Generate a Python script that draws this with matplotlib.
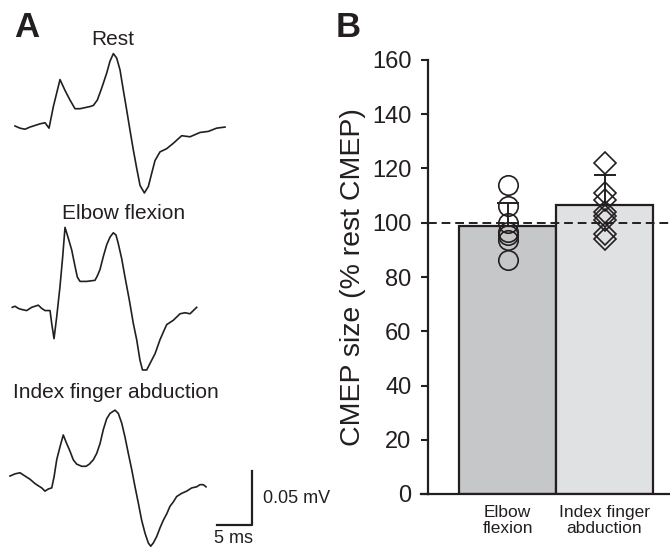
import numpy as np
import matplotlib
matplotlib.use("Agg")
import matplotlib.pyplot as plt

plt.rcParams['font.family'] = ['Liberation Sans', 'DejaVu Sans']
ink = '#231f20'

# panel A traces: time (ms) from trace start, amplitude (mV) from trace baseline
rest_t = [0, 0.71, 1.43, 2.14, 2.62, 3.57, 4.29, 4.86, 5.48, 6.43, 7.14, 7.86, 8.57, 9.29, 10.0,
          10.71, 11.19, 11.76, 12.38, 13.1, 13.57, 14.05, 14.52, 15.0, 15.48, 15.95, 16.43, 16.9,
          17.38, 17.86, 18.48, 19.05, 19.52, 20.0, 20.71, 21.67, 22.62, 23.81, 25.0, 26.43, 27.62,
          28.81, 30.0]
rest_v = [0, -0.002, -0.003, -0.001, 0.0, 0.002, 0.003, -0.002, 0.018, 0.043, 0.033, 0.024, 0.016,
          0.016, 0.017, 0.018, 0.019, 0.024, 0.035, 0.049, 0.060, 0.067, 0.063, 0.052, 0.033, 0.015,
          -0.004, -0.022, -0.039, -0.055, -0.062, -0.056, -0.044, -0.032, -0.024, -0.021, -0.016,
          -0.009, -0.010, -0.006, -0.005, -0.002, -0.001]

elbow_t = [0, 0.39, 0.86, 1.34, 2.06, 2.77, 3.71, 4.2, 4.67, 5.39, 5.63, 5.96, 6.34, 6.81, 7.2,
           7.53, 8.0, 8.49, 8.96, 9.29, 9.67, 10.63, 11.81, 12.14, 12.53, 13.0, 13.49, 13.96, 14.43,
           14.81, 15.14, 15.63, 16.1, 16.71, 17.29, 17.77, 18.24, 18.6, 19.2, 19.91, 20.39, 21.1,
           21.57, 22.06, 23.0, 23.96, 24.67, 25.39, 25.86, 26.34]
elbow_v = [0, 0.001, -0.001, -0.002, -0.003, 0, 0.002, -0.001, -0.003, -0.003, -0.015, -0.029,
           -0.009, 0.019, 0.047, 0.074, 0.064, 0.053, 0.038, 0.028, 0.024, 0.024, 0.025, 0.029,
           0.035, 0.047, 0.058, 0.065, 0.069, 0.067, 0.059, 0.045, 0.028, 0.007, -0.015, -0.030,
           -0.049, -0.058, -0.058, -0.049, -0.043, -0.030, -0.023, -0.016, -0.012, -0.006, -0.005,
           -0.006, -0.003, 0]

index_t = [0, 0.71, 1.43, 2.14, 2.86, 3.57, 4.04, 4.53, 5.0, 5.47, 5.96, 6.29, 6.67, 7.14, 7.61,
           8.1, 8.57, 9.04, 9.53, 10.24, 10.86, 11.33, 11.9, 12.39, 12.86, 13.33, 13.81, 14.29, 15.0,
           15.47, 15.96, 16.43, 16.9, 17.39, 17.86, 18.33, 18.81, 19.29, 19.76, 20.1, 20.47, 20.96,
           21.43, 21.9, 22.39, 22.86, 23.33, 23.81, 24.53, 25.24, 25.96, 26.67, 27.14, 27.61, 28.0]
index_v = [0, 0.002, 0.003, 0, -0.003, -0.007, -0.009, -0.011, -0.014, -0.012, -0.011, -0.001,
           0.015, 0.027, 0.038, 0.030, 0.023, 0.015, 0.011, 0.009, 0.009, 0.011, 0.015, 0.021, 0.030,
           0.043, 0.053, 0.058, 0.061, 0.058, 0.049, 0.036, 0.021, 0.006, -0.010, -0.025, -0.041,
           -0.053, -0.062, -0.065, -0.062, -0.056, -0.048, -0.041, -0.035, -0.028, -0.024, -0.019,
           -0.016, -0.014, -0.011, -0.010, -0.008, -0.008, -0.010]

# panel B data (% rest CMEP)
conditions = ['Elbow\nflexion', 'Index finger\nabduction']
means = [98.8, 106.7]
sds = [8.4, 10.8]
elbow_pts = [114.0, 106.0, 100.0, 96.7, 95.5, 93.6, 86.3]
index_pts = [122.0, 111.0, 108.5, 104.0, 102.5, 101.0, 96.0, 94.0]

fig = plt.figure(figsize=(6.7, 5.5), dpi=100)
W, H = 670.0, 550.0

# ---- panel A ----
axa = fig.add_axes([0, 0, 300 / W, 1])
axa.set_xlim(0, 300 / 7.0)          # 7 px per ms
axa.set_ylim(0, H / 1080.0)         # 1080 px per mV
axa.axis('off')

for t, v, (t0, v0) in [(rest_t, rest_v, (2.143, 0.3926)),
                       (elbow_t, elbow_v, (1.757, 0.2247)),
                       (index_t, index_v, (1.429, 0.0685))]:
    axa.plot(np.array(t) + t0, np.array(v) + v0, color=ink, lw=1.2)

# scale bar: 5 ms, 0.05 mV
sb_t, sb_v = 36.0, 0.0231
axa.plot([sb_t - 5, sb_t, sb_t], [sb_v, sb_v, sb_v + 0.05], color=ink, lw=1.6)

fig.text(113 / W, 1 - 45 / H, 'Rest', ha='center', va='baseline', fontsize=15, color=ink)
fig.text(124 / W, 1 - 219 / H, 'Elbow flexion', ha='center', va='baseline', fontsize=15, color=ink)
fig.text(116 / W, 1 - 398 / H, 'Index finger abduction', ha='center', va='baseline', fontsize=15, color=ink)
fig.text(263 / W, 1 - 503 / H, '0.05 mV', ha='left', va='baseline', fontsize=13, color=ink)
fig.text(233 / W, 1 - 550 / H + 3 / H, '5 ms', ha='center', va='bottom', fontsize=13, color=ink)

fig.text(14 / W, 1 - 37 / H, 'A', fontsize=25, fontweight='bold', color=ink, va='baseline')
fig.text(336 / W, 1 - 37 / H, 'B', fontsize=25, fontweight='bold', color=ink, va='baseline')

# ---- panel B ----
axb = fig.add_axes([428 / W, 56 / H, 242 / W, 434 / H])
x = np.arange(len(conditions))
axb.bar(x, means, width=1.0, color=['#c6c7c9', '#e0e1e3'], edgecolor=ink, linewidth=1.6, zorder=1)
axb.axhline(100, color=ink, lw=1.4, dashes=(4.5, 2.5), zorder=2)
axb.plot(np.full(len(elbow_pts), x[0]), elbow_pts, 'o', ms=14, mfc='none', mec=ink, mew=1.2, zorder=3)
axb.plot(np.full(len(index_pts), x[1]), index_pts, 'D', ms=11.7, mfc='none', mec=ink, mew=1.2, zorder=3)
axb.errorbar(x, means, yerr=[[0, 0], sds], fmt='none', ecolor=ink, elinewidth=1.4,
             capsize=8, capthick=1.4, zorder=4)

axb.set_xlim(-0.82, 1.675)
axb.set_ylim(0, 160)
axb.set_yticks(np.arange(0, 161, 20))
axb.set_xticks(x)
axb.set_xticklabels(conditions, fontsize=12.5, color=ink, linespacing=1.1)
axb.tick_params(axis='x', length=0, pad=8)
axb.tick_params(axis='y', length=5, width=1.5, labelsize=17, colors=ink, pad=7)
for s in ['top', 'right']:
    axb.spines[s].set_visible(False)
for s in ['left', 'bottom']:
    axb.spines[s].set_linewidth(1.6)
    axb.spines[s].set_color(ink)
axb.axhline(0, xmin=-0.03, xmax=0, color=ink, lw=1.6, clip_on=False)
axb.set_ylabel('CMEP size (% rest CMEP)', fontsize=20.5, color=ink, labelpad=4)

fig.savefig('out.png', dpi=100)
